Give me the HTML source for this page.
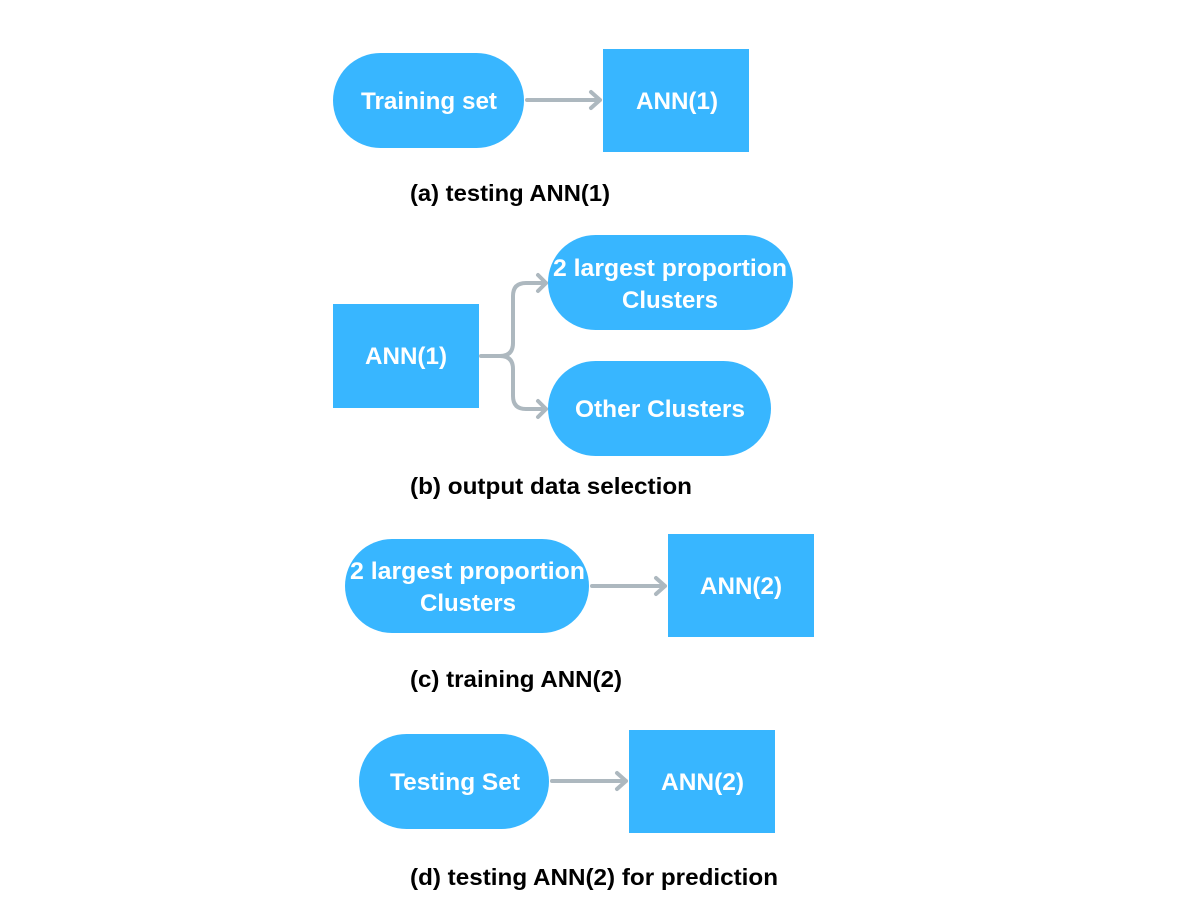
<!DOCTYPE html>
<html><head><meta charset="utf-8"><style>
html,body{margin:0;padding:0;background:#fff;}
svg{display:block;}
text{font-family:"Liberation Sans",sans-serif;font-weight:bold;}
.w{fill:#fff;font-size:24px;}
.c{fill:#000;font-size:23px;}
.a{stroke:#adb8bf;stroke-width:4;fill:none;stroke-linecap:round;stroke-linejoin:round;}
</style></head><body>
<svg width="1190" height="897" viewBox="0 0 1190 897">
<!-- (a) -->
<rect x="333" y="53" width="191" height="95" rx="47.5" fill="#38b6ff"/>
<text class="w" x="361" y="109" textLength="136" lengthAdjust="spacingAndGlyphs">Training set</text>
<rect x="603" y="49" width="146" height="103" fill="#38b6ff"/>
<text class="w" x="636" y="109" textLength="82" lengthAdjust="spacingAndGlyphs">ANN(1)</text>
<path class="a" d="M527 100 H600 M591 92 L600 100 L591 108"/>
<text class="c" x="410" y="201" textLength="200" lengthAdjust="spacingAndGlyphs">(a) testing ANN(1)</text>
<!-- (b) -->
<rect x="333" y="304" width="146" height="104" fill="#38b6ff"/>
<text class="w" x="365" y="364" textLength="82" lengthAdjust="spacingAndGlyphs">ANN(1)</text>
<rect x="548" y="235" width="245" height="95" rx="47.5" fill="#38b6ff"/>
<text class="w" x="553" y="276" textLength="234" lengthAdjust="spacingAndGlyphs">2 largest proportion</text>
<text class="w" x="622" y="308" textLength="96" lengthAdjust="spacingAndGlyphs">Clusters</text>
<rect x="548" y="361" width="223" height="95" rx="47.5" fill="#38b6ff"/>
<text class="w" x="575" y="417" textLength="170" lengthAdjust="spacingAndGlyphs">Other Clusters</text>
<path class="a" d="M481 356 H500 Q513 356 513 343 V296 Q513 283 526 283 H546 M538 275 L546 283 L538 291"/>
<path class="a" d="M500 356 Q513 356 513 369 V396 Q513 409 526 409 H546 M538 401 L546 409 L538 417"/>
<text class="c" x="410" y="494" textLength="282" lengthAdjust="spacingAndGlyphs">(b) output data selection</text>
<!-- (c) -->
<rect x="345" y="539" width="244" height="94" rx="47" fill="#38b6ff"/>
<text class="w" x="350" y="579" textLength="235" lengthAdjust="spacingAndGlyphs">2 largest proportion</text>
<text class="w" x="420" y="611" textLength="96" lengthAdjust="spacingAndGlyphs">Clusters</text>
<rect x="668" y="534" width="146" height="103" fill="#38b6ff"/>
<text class="w" x="700" y="594" textLength="82" lengthAdjust="spacingAndGlyphs">ANN(2)</text>
<path class="a" d="M592 586 H665 M656 578 L665 586 L656 594"/>
<text class="c" x="410" y="687" textLength="212" lengthAdjust="spacingAndGlyphs">(c) training ANN(2)</text>
<!-- (d) -->
<rect x="359" y="734" width="190" height="95" rx="47.5" fill="#38b6ff"/>
<text class="w" x="390" y="790" textLength="130" lengthAdjust="spacingAndGlyphs">Testing Set</text>
<rect x="629" y="730" width="146" height="103" fill="#38b6ff"/>
<text class="w" x="661" y="790" textLength="83" lengthAdjust="spacingAndGlyphs">ANN(2)</text>
<path class="a" d="M552 781 H626 M617 773 L626 781 L617 789"/>
<text class="c" x="410" y="885" textLength="368" lengthAdjust="spacingAndGlyphs">(d) testing ANN(2) for prediction</text>
</svg>
</body></html>
